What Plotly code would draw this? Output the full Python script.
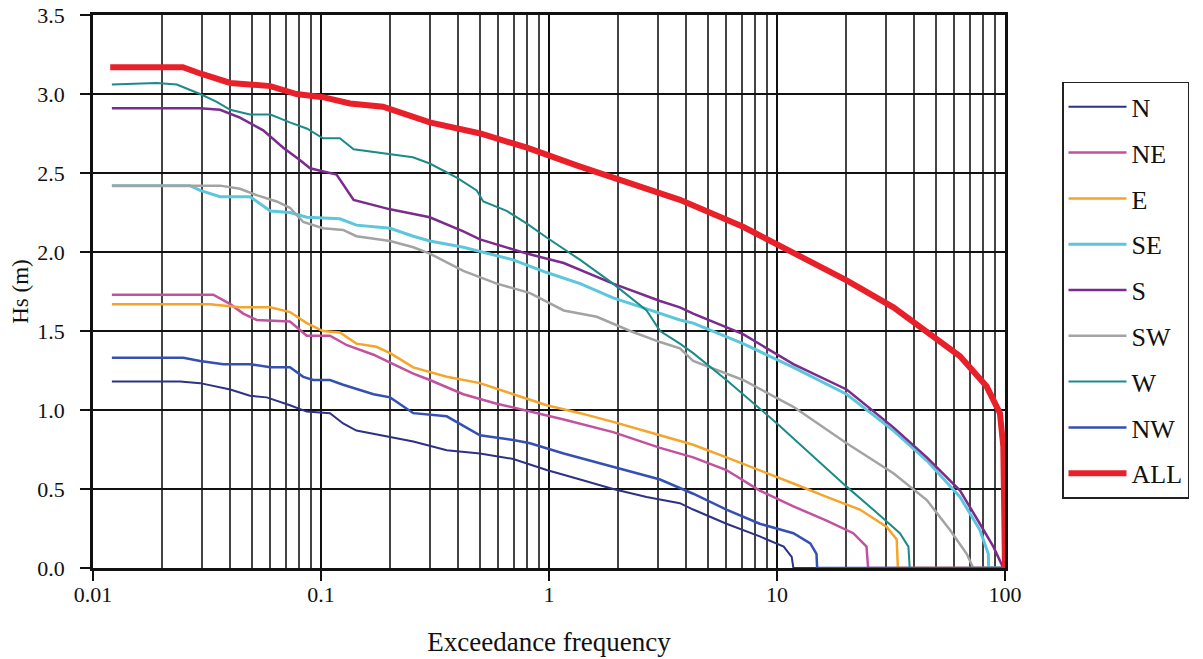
import plotly.graph_objects as go

# Exceedance curves of significant wave height by direction
n_x = [0.0121, 0.0241, 0.0295, 0.040, 0.0488, 0.0578, 0.0731, 0.0866, 0.1095, 0.125, 0.143, 0.201,
       0.254, 0.356, 0.498, 0.697, 0.977, 1.37, 1.91, 2.68, 3.75, 4.29, 6.0, 8.4, 10.7, 11.6, 11.8, 100]
n_y = [1.18, 1.18, 1.17, 1.13, 1.09, 1.08, 1.03, 0.99, 0.98, 0.915, 0.87, 0.83,
       0.80, 0.745, 0.725, 0.69, 0.62, 0.56, 0.50, 0.45, 0.41, 0.37, 0.28, 0.20, 0.135, 0.07, 0, 0]

ne_x = [0.0121, 0.0337, 0.040, 0.0456, 0.0522, 0.0731, 0.0866, 0.1095, 0.130, 0.170, 0.201, 0.254,
        0.30, 0.421, 0.59, 0.826, 1.16, 1.91, 3.07, 4.29, 6.0, 8.4, 11.8, 16.5, 21.6, 24.7, 25.1, 100]
ne_y = [1.73, 1.73, 1.67, 1.61, 1.57, 1.56, 1.47, 1.47, 1.41, 1.35, 1.30, 1.23,
        1.19, 1.10, 1.04, 0.99, 0.94, 0.86, 0.76, 0.70, 0.62, 0.49, 0.39, 0.30, 0.22, 0.135, 0, 0]

e_x = [0.0121, 0.0326, 0.0441, 0.060, 0.0731, 0.0866, 0.102, 0.121, 0.143, 0.175, 0.201, 0.254,
       0.356, 0.498, 0.697, 0.977, 1.37, 1.91, 3.07, 4.29, 6.0, 8.4, 11.8, 16.5, 23.1, 30.3, 33.5, 33.9, 100]
e_y = [1.67, 1.67, 1.65, 1.65, 1.62, 1.55, 1.50, 1.49, 1.42, 1.40, 1.36, 1.27,
       1.21, 1.17, 1.10, 1.03, 0.98, 0.925, 0.84, 0.78, 0.70, 0.62, 0.535, 0.45, 0.37, 0.26, 0.18, 0, 0]

se_x = [0.0121, 0.0266, 0.0295, 0.0361, 0.0488, 0.060, 0.0731, 0.0866, 0.121, 0.143, 0.201, 0.254,
        0.30, 0.421, 0.697, 0.977, 1.37, 1.91, 2.68, 3.75, 4.29, 7.1, 11.8, 20.2, 32.4, 45.4, 63.5,
        77.6, 84.5, 84.8, 100]
se_y = [2.42, 2.42, 2.39, 2.35, 2.35, 2.26, 2.25, 2.22, 2.21, 2.17, 2.15, 2.10,
        2.07, 2.03, 1.95, 1.87, 1.80, 1.71, 1.64, 1.57, 1.55, 1.42, 1.27, 1.10, 0.87, 0.68, 0.45,
        0.24, 0.09, 0, 0]

s_x = [0.0121, 0.0295, 0.0361, 0.0441, 0.0558, 0.0683, 0.081, 0.0895, 0.117, 0.139, 0.201, 0.254,
       0.30, 0.421, 0.498, 0.80, 1.16, 1.91, 3.07, 3.75, 4.29, 7.1, 11.8, 20.2, 32.4, 45.4, 63.5,
       77.6, 88.9, 98.3, 100]
s_y = [2.91, 2.91, 2.90, 2.85, 2.77, 2.66, 2.58, 2.53, 2.49, 2.33, 2.27, 2.24,
       2.22, 2.13, 2.08, 1.99, 1.93, 1.80, 1.69, 1.65, 1.61, 1.48, 1.29, 1.13, 0.89, 0.70, 0.49,
       0.28, 0.135, 0, 0]

sw_x = [0.0121, 0.0361, 0.0441, 0.0522, 0.0639, 0.0731, 0.0836, 0.102, 0.125, 0.143, 0.201, 0.254,
        0.30, 0.421, 0.59, 0.826, 1.16, 1.62, 2.27, 3.07, 3.75, 4.29, 7.1, 11.8, 20.2, 32.4, 45.4,
        57.4, 67.9, 72.6, 100]
sw_y = [2.42, 2.42, 2.40, 2.36, 2.32, 2.28, 2.19, 2.15, 2.14, 2.10, 2.07, 2.03,
        1.99, 1.88, 1.80, 1.74, 1.63, 1.59, 1.50, 1.43, 1.39, 1.31, 1.19, 1.02, 0.79, 0.60, 0.43,
        0.24, 0.09, 0, 0]

w_x = [0.0121, 0.019, 0.0233, 0.0295, 0.0349, 0.040, 0.0488, 0.060, 0.073, 0.087, 0.102, 0.121,
       0.139, 0.20, 0.253, 0.30, 0.394, 0.482, 0.515, 0.652, 0.80, 0.98, 1.37, 1.91, 2.68, 3.07,
       3.75, 4.29, 6.0, 10.0, 14.0, 20.2, 27.4, 34.6, 37.7, 38.2, 100]
w_y = [3.06, 3.07, 3.06, 3.00, 2.95, 2.90, 2.87, 2.87, 2.82, 2.78, 2.72, 2.72,
       2.65, 2.62, 2.60, 2.56, 2.47, 2.39, 2.32, 2.26, 2.18, 2.09, 1.95, 1.80, 1.63, 1.50,
       1.42, 1.36, 1.19, 0.915, 0.725, 0.515, 0.35, 0.22, 0.135, 0, 0]

nw_x = [0.0121, 0.0249, 0.0295, 0.0373, 0.0488, 0.060, 0.0731, 0.0836, 0.0925, 0.1095, 0.125, 0.170,
        0.201, 0.254, 0.356, 0.498, 0.697, 0.826, 1.16, 1.91, 3.07, 4.29, 6.0, 8.4, 11.8, 14.0,
        14.9, 15.0, 100]
nw_y = [1.33, 1.33, 1.31, 1.29, 1.29, 1.27, 1.27, 1.21, 1.19, 1.19, 1.16, 1.10,
        1.08, 0.98, 0.96, 0.84, 0.81, 0.79, 0.725, 0.64, 0.56, 0.47, 0.37, 0.28, 0.22, 0.156,
        0.09, 0, 0]

all_x = [0.0119, 0.0248, 0.0295, 0.040, 0.060, 0.078, 0.102, 0.134, 0.187, 0.30, 0.50, 0.80,
         1.37, 1.98, 3.75, 7.1, 10.0, 20.2, 32.4, 45.4, 53.6, 63.5, 83.0, 95.0, 98.3, 99.5, 100]
all_y = [3.17, 3.17, 3.13, 3.07, 3.05, 3.00, 2.98, 2.94, 2.92, 2.82, 2.75, 2.66,
         2.54, 2.46, 2.33, 2.16, 2.05, 1.82, 1.65, 1.50, 1.42, 1.34, 1.15, 0.98, 0.77, 0.30, 0]

names = ["N", "NE", "E", "SE", "S", "SW", "W", "NW", "ALL"]
xs = [n_x, ne_x, e_x, se_x, s_x, sw_x, w_x, nw_x, all_x]
ys = [n_y, ne_y, e_y, se_y, s_y, sw_y, w_y, nw_y, all_y]
colors = ["#2e3184", "#c2519f", "#f4a52a", "#5cc6dc", "#7b2b8c", "#a3a3a3", "#1b8b88", "#3550b2", "#e8202a"]
widths = [2, 2.5, 2.5, 3, 2.5, 2.5, 2, 2.5, 6]

x_major = [0.01, 0.1, 1, 10, 100]
x_labels = ["0.01", "0.1", "1", "10", "100"]
x_minor = [m * 10 ** k for k in range(-2, 2) for m in range(2, 10)]
y_ticks = [0.0, 0.5, 1.0, 1.5, 2.0, 2.5, 3.0, 3.5]

serif = "Liberation Serif, Times New Roman, serif"

fig = go.Figure()
for name, x, y, c, w in zip(names, xs, ys, colors, widths):
    fig.add_trace(go.Scatter(x=x, y=y, mode="lines", name=name, legendgroup=name,
                             line=dict(color=c, width=w)))

fig.update_layout(
    width=1203, height=659,
    margin=dict(l=93, r=198, t=15, b=91),
    paper_bgcolor="white", plot_bgcolor="white",
    font=dict(family=serif, color="#111", size=22),
    showlegend=True,
    legend=dict(x=1.0625, y=0.879, xanchor="left", yanchor="top",
                bordercolor="#222", borderwidth=1.5, bgcolor="white",
                font=dict(family=serif, size=26, color="#111"),
                tracegroupgap=9, itemwidth=58),
)

fig.update_xaxes(
    type="log", range=[-2, 2], automargin=False,
    tickmode="array", tickvals=x_major, ticktext=x_labels,
    ticks="outside", ticklen=10, tickwidth=1.8, tickcolor="#111",
    ticklabelstandoff=-5,
    showgrid=True, gridcolor="#111", gridwidth=1.8,
    minor=dict(tickmode="array", tickvals=x_minor, showgrid=True,
               gridcolor="#444", gridwidth=1.6, ticks=""),
    showline=True, linecolor="#111", linewidth=2.5, mirror=True,
    zeroline=False,
    title=dict(text="Exceedance frequency", font=dict(size=27, family=serif), standoff=26),
)
fig.update_yaxes(
    range=[0, 3.5], automargin=False,
    tickmode="array", tickvals=y_ticks,
    ticktext=[f"{v:.1f}" for v in y_ticks],
    ticks="outside", ticklen=10, tickwidth=1.8, tickcolor="#111",
    ticklabelstandoff=11,
    showgrid=True, gridcolor="#111", gridwidth=1.8,
    showline=True, linecolor="#111", linewidth=2.5, mirror=True,
    zeroline=False,
    title=dict(text="Hs (m)", font=dict(size=23, family=serif), standoff=3),
)

fig.write_html("out.html")
